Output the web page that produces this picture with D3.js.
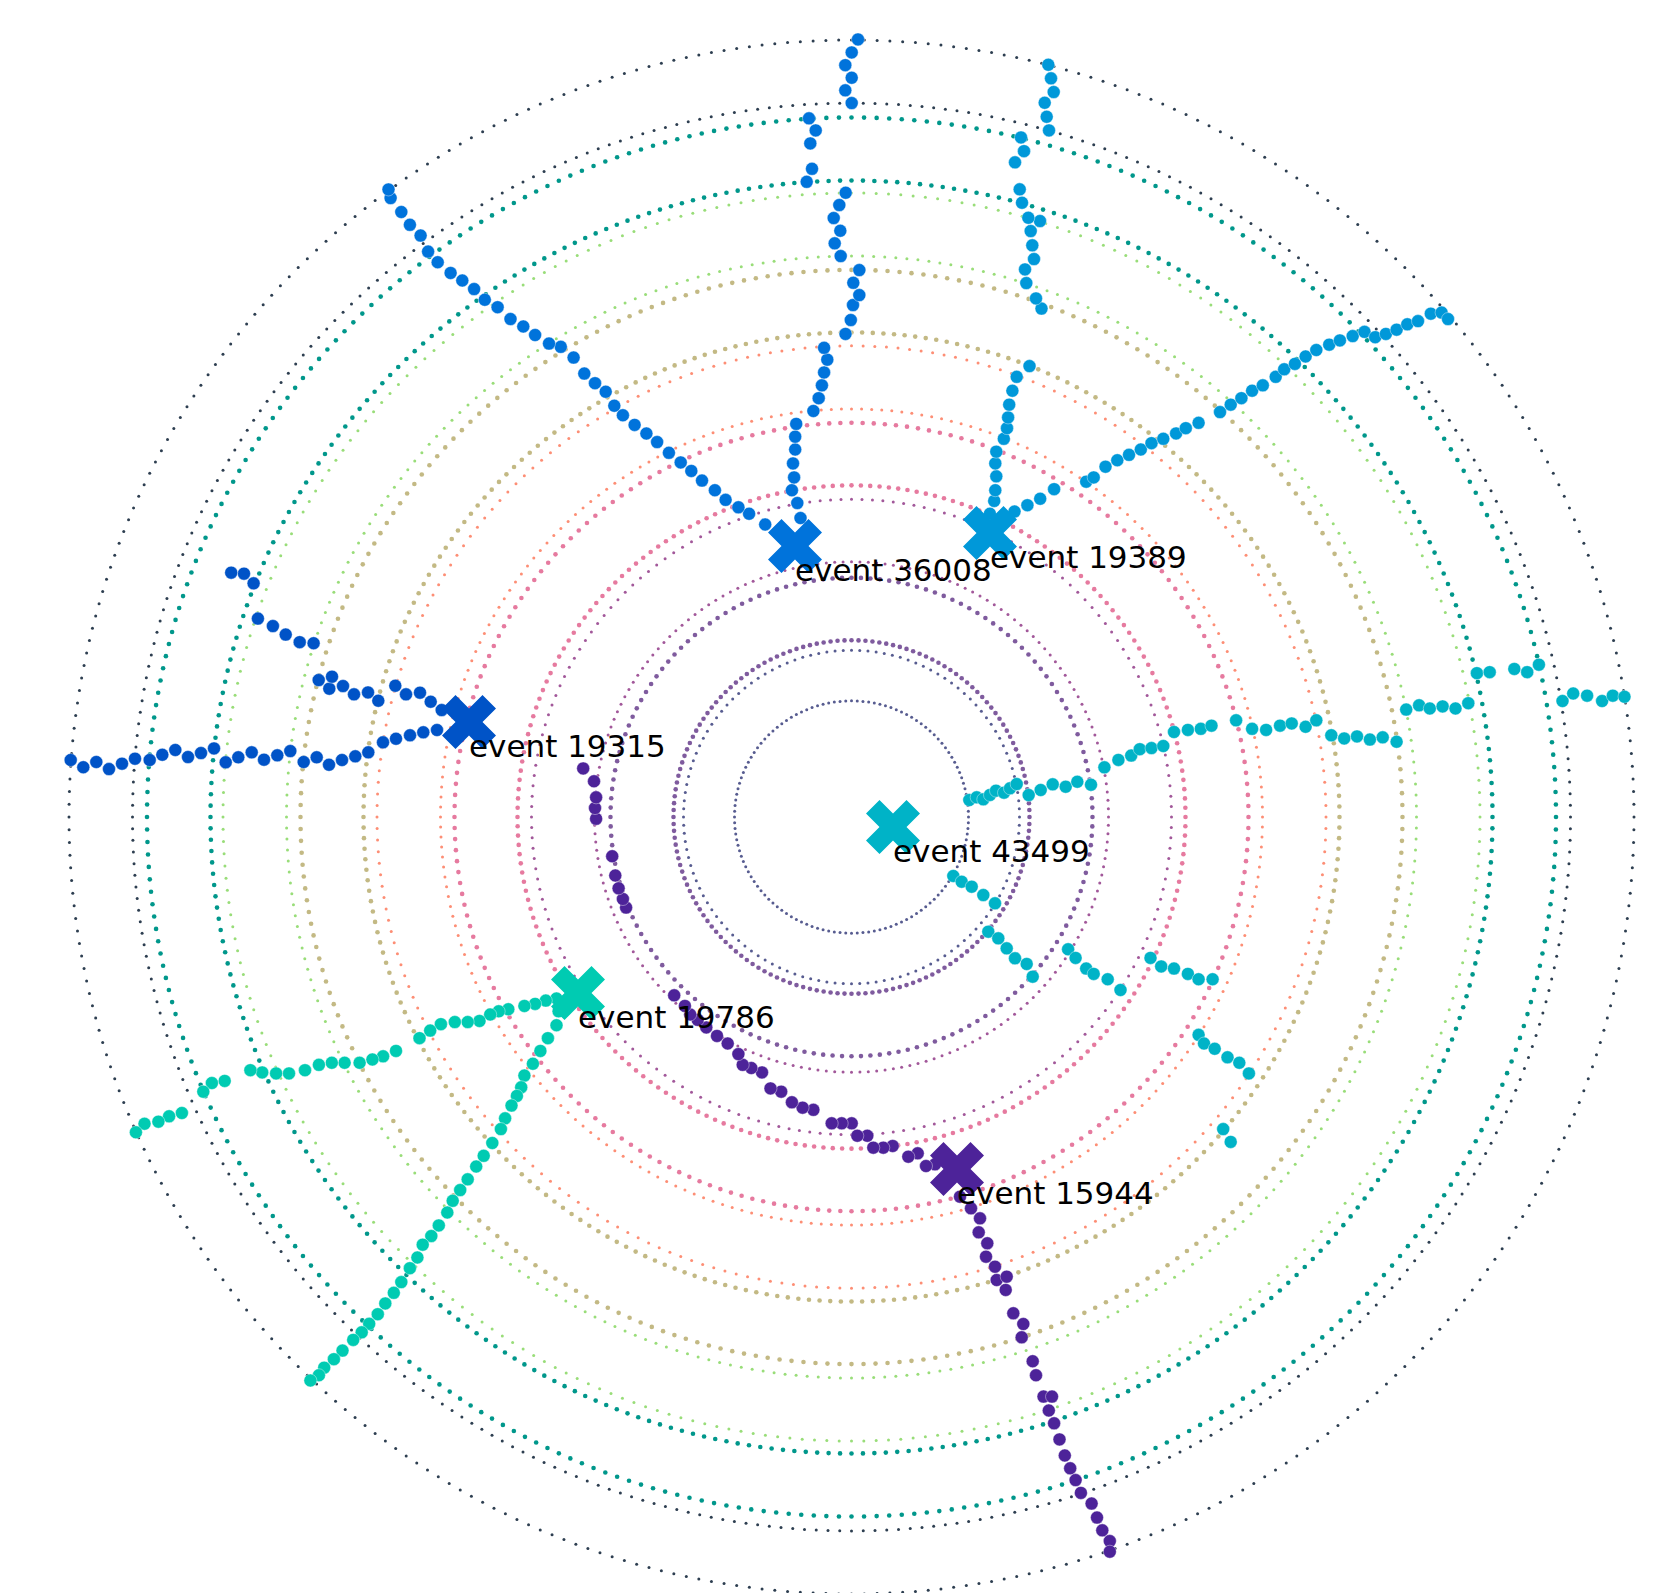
<!DOCTYPE html>
<html>
<head>
<meta charset="utf-8">
<script src="https://cdn.jsdelivr.net/npm/d3@7"></script>
<style>
  html, body { margin: 0; padding: 0; background: #fff; }
  svg { display: block; }
</style>
</head>
<body>
<div id="chart"></div>
<script>
// Detector layers: each layer is a ring drawn as an inner and an outer dotted circle (mm).
const layerInner = [117, 178, 257, 334, 411, 488, 565, 641, 719];
const layerOuter = [168, 241, 320, 397, 474.5, 551, 628.5, 704.5, 782.5];
const layerDots = [128, 160, 192, 224, 256, 288, 320, 352, 384];

// Events: id, vertex position (mm)
const eventIds = ["15944", "19315", "36008", "19389", "43499", "19786"];
const vertexX = [105.5, -382.5, -56.5, 138.5, 41.5, -273.5];
const vertexY = [-354.5, 95.6, 272.9, 286.0, -10.1, -177.3];

// Hits of every reconstructed track, [x, y] in mm, ordered outwards
const tracks15944 = [
  [[83.5,-349.8],[74.5,-351.5],[66.2,-338.7],[56.8,-342.1],[41.2,-331.3],[31.8,-333.0],[21.8,-333.0],[15.8,-321.0],[5.8,-321.0],[0.2,-308.5],[-9.8,-308.5],[-19.8,-308.5],
   [-38.1,-294.9],[-48.9,-292.7],[-59.6,-287.3],[-70.3,-276.6],[-81.0,-273.3],[-89.5,-257.2],[-100.2,-252.8],[-108.8,-249.6],[-113.1,-238.8],[-123.8,-228.1],[-134.5,-220.5],[-145.2,-211.9],[-153.8,-204.3],[-161.3,-198.9],[-166.6,-190.3],[-177.3,-179.6],
   [-225.4,-91.2],[-228.6,-82.6],[-232.9,-71.8],[-236.2,-58.9],[-239.3,-39.5],
   [-255.4,-1.8],[-256.5,9.0],[-255.4,19.8],[-257.5,36.0],[-268.3,48.9]],
  [[108.5,-382.4],[119.5,-394.1],[128.5,-404.2],[127.2,-418.3],[135.8,-429.3],[134.5,-442.8],[143.5,-452.9],[145.2,-466.3],[155.2,-462.9],[154.2,-476.3],[161.8,-499.8],[171.8,-510.6],[170.2,-524.0],
   [181.2,-548.1],[184.5,-562.2],[192.0,-583.7],[200.5,-583.7],[197.3,-597.7],[202.6,-610.6],[208.0,-626.8],[213.3,-643.0],[218.7,-655.9],[224.1,-667.8],[229.4,-680.7],[240.1,-691.4],[245.5,-705.5],[250.8,-718.4],[258.3,-729.2],[258.3,-739.9]]
];
const tracks19315 = [
  [[-414.5,87.6],[-428.2,85.3],[-441.5,82.3],[-455.5,78.8],[-468.5,75.2],[-483.2,65.1],[-496.2,61.1],[-509.5,57.4],[-522.5,52.6],[-534.8,60.1],[-547.8,55.4],[-561.2,66.4],[-574.2,62.1],[-587.5,57.7],[-599.8,65.1],[-613.2,60.1],[-625.8,55.1],[-637.5,69.1],[-650.5,64.4],[-663.5,60.4],[-676.2,67.5],[-689.2,62.7],[-701.8,57.4],[-716.5,58.7],[-729.5,53.7],[-742.5,48.3],[-755.2,55.4],[-768.2,50.1],[-780.8,57.4]],
  [[-409.8,107.7],[-420.8,116.1],[-431.5,125.2],[-445.5,123.5],[-456.2,132.2],[-473.2,117.1],[-483.5,125.5],[-497.5,123.5],[-508.5,131.9],[-522.2,129.2],[-519.5,141.3],[-532.8,137.9],
   [-537.9,175.0],[-551.8,176.1],[-565.8,183.7],[-578.6,192.3],[-593.6,199.8],[-597.9,235.3],[-607.5,245.1],[-620.3,246.1]]
];
const tracks36008 = [
  [[-72.4,286.0],[-86.3,294.6],[-102.4,305.4],[-113.1,311.9],[-125.9,319.4],[-136.6,329.1],[-149.5,338.8],[-160.2,348.5],[-170.8,357.1],[-182.6,366.8],[-194.4,377.6],[-205.1,386.2],[-216.9,394.9],[-228.6,404.6],[-237.2,414.2],[-245.8,428.3],[-256.5,436.9],[-267.2,446.6],[-277.9,462.7],[-290.7,473.5],[-302.5,476.8],[-316.4,485.4],[-328.2,494.0],[-341.0,501.5],[-353.9,513.4],[-366.7,520.9],[-377.4,531.7],[-389.2,540.3],[-400.9,547.9],[-413.8,558.7],[-423.4,569.4],[-430.9,585.6],[-441.6,596.4],[-450.2,609.3],[-460.9,623.3],[-463.0,632.0]],
  [[-51.0,301.1],[-54.2,316.2],[-59.6,329.1],[-57.4,342.0],[-58.5,356.1],[-56.3,370.1],[-56.3,383.0],[-55.3,395.9],[-38.1,408.9],[-32.8,421.8],[-29.6,434.7],[-27.4,447.7],[-24.2,460.6],[-27.4,472.5],[-6.0,486.5],[-0.7,500.5],[1.5,515.6],
   [7.8,525.6],[1.8,538.0],[7.8,550.8],[-10.8,564.9],[-16.8,577.7],[-11.2,590.4],[-17.8,603.2],[-12.2,616.3],[-5.8,628.7],[-44.8,639.7],[-39.5,652.8],[-41.2,678.4],[-35.8,691.5],[-42.5,703.6],[0.2,719.0],[-6.2,731.8],[0.2,744.5],[-6.2,757.2],[0.2,770.0],[6.5,783.1]]
];
const tracks19389 = [
  [[127.7,296.8],[138.4,305.4],[142.7,318.3],[143.8,329.1],[144.8,343.1],[143.8,356.1],[144.8,367.9],[152.3,380.9],[155.5,391.6],[156.6,402.4],[157.7,415.3],[160.9,429.3],[165.2,443.3],[178.0,454.1],
   [190.0,512.0],[184.5,522.3],[174.8,537.7],[173.5,551.5],[182.5,561.9],[180.8,575.7],[179.2,590.1],[188.5,600.2],[176.8,603.5],[170.5,618.6],[168.2,632.1],[163.5,659.3],[172.5,670.6],[169.5,684.4],[197.5,691.5],[195.2,705.2],[193.2,719.3],[202.2,730.1],[199.5,743.9],[196.8,757.6]],
  [[149.1,296.8],[163.0,307.6],[175.9,314.0],[188.7,320.5],[202.6,330.2],[234.7,337.7],[242.2,342.0],[254.0,352.8],[265.8,359.3],[277.5,364.7],[289.3,370.1],[300.0,376.5],[311.8,380.9],[324.6,386.3],[334.3,391.6],[347.1,397.0],[368.5,407.8],[379.2,415.3],[389.9,421.8],[400.6,429.3],[411.3,434.7],[424.2,443.3],[432.7,450.9],[443.4,456.3],[454.1,463.8],[464.8,470.3],[477.7,475.7],[488.4,480.0],[501.2,484.3],[513.0,488.6],[523.7,483.2],[534.4,486.5],[545.1,490.8],[555.8,496.2],[566.5,499.4],[579.3,506.9],[590.1,508.0],[596.5,501.5]]
];
const tracks43499 = [
  [[117.8,17.1],[125.2,19.8],[131.8,17.8],[138.5,22.2],[144.5,26.5],[152.5,24.5],[158.5,28.9],[165.2,33.2],[177.2,22.1],[189.2,27.2],[201.2,32.9],[214.2,30.5],[225.8,35.5],[239.5,32.5],
   [252.9,50.0],[266.9,57.5],[279.7,61.9],[288.3,68.3],[300.0,69.4],[311.8,71.5],[322.5,85.6],[336.4,87.7],[349.3,88.8],[360.0,92.0],[384.6,97.4],[400.6,88.8],[414.6,87.7],[428.5,92.0],[440.2,94.2],[454.1,90.9],[464.8,97.4],[479.8,82.3],[492.7,79.1],[505.5,81.2],[518.4,78.0],[531.2,80.2],[545.1,75.8],[554.7,108.2],[567.6,112.5],[578.3,109.3],[591.1,111.4],[604.0,109.3],[616.8,114.6],[625.4,144.9],[638.2,145.9],[662.8,149.1],[675.7,145.9],[687.4,153.4],[711.0,116.8],[721.7,124.4],[735.6,122.2],[750.6,116.8],[761.3,122.2],[773.0,121.1]],
  [[101.8,-59.4],[110.2,-65.2],[120.2,-70.2],[131.8,-78.6],[143.5,-86.9],[136.8,-115.5],[146.8,-122.2],[155.2,-132.3],[163.5,-142.3],[175.2,-148.0],[181.2,-160.8],
   [216.6,-133.2],[224.1,-141.9],[234.7,-152.6],[242.2,-158.0],[256.2,-163.4],[269.0,-174.2],[299.0,-141.9],[309.7,-150.5],[322.5,-152.6],[336.4,-158.0],[347.1,-163.4],[361.1,-163.4]],
  [[347.1,-219.4],[352.5,-228.1],[363.2,-233.4],[376.0,-242.0],[387.8,-247.5],[397.4,-258.2],[371.7,-314.3],[379.2,-327.2]]
];
const tracks19786 = [
  [[-295.0,-182.8],[-305.7,-184.9],[-316.4,-188.2],[-327.1,-190.3],[-343.2,-193.6],[-352.8,-195.7],[-361.3,-198.9],[-372.0,-205.4],[-383.8,-206.5],[-396.7,-206.5],[-410.6,-208.6],[-421.3,-215.1],[-432.0,-222.7],[-455.5,-235.6],[-468.4,-241.0],[-479.1,-244.2],[-491.9,-247.5],[-506.9,-247.5],[-519.7,-247.5],[-532.6,-249.6],[-546.5,-255.0],[-562.5,-258.2],[-575.4,-258.2],[-589.3,-257.2],[-601.1,-255.0],[-626.8,-265.8],[-639.6,-267.9],[-648.2,-276.6],[-669.6,-298.1],[-682.4,-301.4],[-693.1,-306.8],[-707.0,-308.9],[-715.6,-317.5]],
  [[-292.9,-195.7],[-295.0,-209.7],[-303.6,-222.7],[-311.1,-235.6],[-318.6,-248.5],[-327.1,-260.4],[-330.3,-272.2],[-334.6,-280.9],[-340.0,-290.6],[-346.4,-303.5],[-350.6,-314.3],[-359.2,-328.3],[-367.8,-341.2],[-375.3,-352.0],[-383.8,-364.9],[-391.3,-375.7],[-398.8,-386.5],[-404.2,-398.3],[-412.7,-411.3],[-420.2,-422.0],[-428.8,-430.7],[-434.1,-443.6],[-441.6,-454.4],[-450.2,-468.4],[-457.7,-479.2],[-466.2,-489.9],[-473.7,-500.7],[-482.3,-510.4],[-489.8,-519.0],[-498.3,-526.6],[-509.0,-537.4],[-517.6,-546.0],[-527.3,-554.6],[-532.6,-562.2],[-541.1,-567.5]]
];
const eventTracks = [tracks15944, tracks19315, tracks36008, tracks19389, tracks43499, tracks19786];

// Styling
const layerColors = ["#575c90", "#7f5b9e", "#a2589a", "#e67a9f", "#fd8e75", "#c3b984", "#99dd79", "#00978b", "#2d3e50"];
const eventColors = ["#4d2399", "#0053c7", "#0073db", "#0098d9", "#00b3c7", "#00cbb2"];

const W = 1678, H = 1593;
const svg = d3.select("#chart").append("svg").attr("width", W).attr("height", H);
svg.append("rect").attr("width", W).attr("height", H).attr("fill", "#fff");

const x = d3.scaleLinear().domain([-851.5, 826.5]).range([0, W]);
const y = d3.scaleLinear().domain([-781.5, 822.8]).range([H, 0]);

// Detector rings
const ringG = svg.append("g");
layerInner.forEach((rin, i) => {
  const small = i % 2 === 0;
  [rin, layerOuter[i]].forEach(r => {
    const n = layerDots[i];
    const pts = d3.range(n).map(k => {
      const a = 2 * Math.PI * k / n;
      return [r * Math.cos(a), r * Math.sin(a)];
    });
    ringG.append("g").selectAll("circle").data(pts).join("circle")
      .attr("cx", d => x(d[0])).attr("cy", d => y(d[1]))
      .attr("r", small ? 1.5 : 2.3)
      .attr("fill", layerColors[i]);
  });
});

// Tracks
const trackG = svg.append("g");
eventTracks.forEach((trs, e) => {
  trs.forEach(tr => {
    trackG.append("g").selectAll("circle").data(tr).join("circle")
      .attr("cx", d => x(d[0])).attr("cy", d => y(d[1]))
      .attr("r", 6.5)
      .attr("fill", eventColors[e])
      .attr("stroke", "#fff").attr("stroke-opacity", 0.5).attr("stroke-width", 0.8);
  });
});

// Vertex markers: thick X
const xSymbol = {
  draw(ctx, size) {
    const rx = Math.sqrt(size) / 4;
    const pts = [[0,rx],[rx,2*rx],[2*rx,rx],[rx,0],[2*rx,-rx],[rx,-2*rx],[0,-rx],[-rx,-2*rx],[-2*rx,-rx],[-rx,0],[-2*rx,rx],[-rx,2*rx]];
    ctx.moveTo(pts[0][0], pts[0][1]);
    pts.slice(1).forEach(p => ctx.lineTo(p[0], p[1]));
    ctx.closePath();
  }
};
const vG = svg.append("g");
eventIds.forEach((id, e) => {
  vG.append("path")
    .attr("d", d3.symbol().type(xSymbol).size(54 * 54)())
    .attr("transform", `translate(${x(vertexX[e])},${y(vertexY[e])})`)
    .attr("fill", eventColors[e]);
});

// Event labels
const lG = svg.append("g");
eventIds.forEach((id, e) => {
  lG.append("text")
    .attr("x", x(vertexX[e]))
    .attr("y", y(vertexY[e]) + 35)
    .attr("font-family", "DejaVu Sans, Verdana, sans-serif")
    .attr("font-size", 31)
    .attr("fill", "#000")
    .text("event " + id);
});
</script>
</body>
</html>
